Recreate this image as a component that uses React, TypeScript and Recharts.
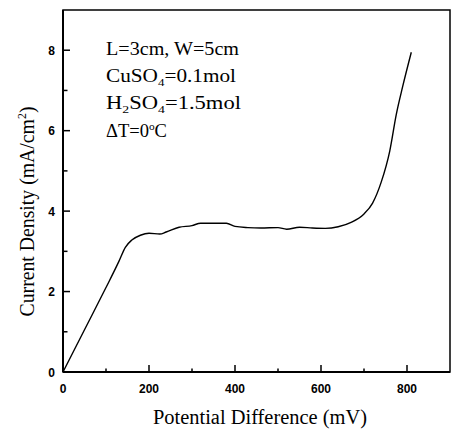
import { LineChart, Line, XAxis, YAxis, ReferenceArea, Customized } from 'recharts';

// Potential difference (mV) vs current density (mA/cm2)
const potential = [0, 50, 100, 130, 145, 160, 180, 200, 225, 240, 270, 300, 320, 350, 380, 400, 430, 460, 500, 520, 550, 580, 610, 640, 670, 700, 720, 740, 760, 775, 790, 810];
const currentDensity = [0, 1.05, 2.1, 2.75, 3.1, 3.28, 3.4, 3.45, 3.43, 3.48, 3.6, 3.64, 3.7, 3.7, 3.7, 3.62, 3.59, 3.58, 3.59, 3.55, 3.6, 3.58, 3.57, 3.61, 3.72, 3.93, 4.2, 4.72, 5.5, 6.4, 7.1, 7.95];

const xTicks = [0, 100, 200, 300, 400, 500, 600, 700, 800];
const yTicks = [0, 1, 2, 3, 4, 5, 6, 7, 8];
const xLabelStep = 200;
const yLabelStep = 2;

const data = potential.map((p, i) => ({ p, j: currentDensity[i] }));

const SERIF = '"Liberation Serif", "Times New Roman", serif';
const SANS = '"Liberation Sans", Arial, sans-serif';

const XTick = (props: any) => {
  const { x, y, payload } = props;
  const major = payload.value % xLabelStep === 0;
  return (
    <g>
      <line x1={x} x2={x} y1={y} y2={y - (major ? 7 : 3.5)} stroke="#000" strokeWidth={1.5} />
      {major && (
        <text x={x} y={y + 21} textAnchor="middle" fontFamily={SANS} fontWeight="bold" fontSize={12} fill="#000">
          {payload.value}
        </text>
      )}
    </g>
  );
};

const YTick = (props: any) => {
  const { x, y, payload } = props;
  const major = payload.value % yLabelStep === 0;
  return (
    <g>
      <line x1={x} x2={x + (major ? 7 : 4.5)} y1={y} y2={y} stroke="#000" strokeWidth={1.5} />
      {major && (
        <text x={x - 8} y={y + 4.5} textAnchor="end" fontFamily={SANS} fontWeight="bold" fontSize={12} fill="#000">
          {payload.value}
        </text>
      )}
    </g>
  );
};

const XTitle = (props: any) => {
  const vb = props.viewBox;
  return (
    <text
      x={vb.x + vb.width / 2 + 3.5}
      y={vb.y + 51.5}
      textAnchor="middle"
      fontFamily={SERIF}
      fontSize={20}
      textLength={214}
      lengthAdjust="spacingAndGlyphs"
      fill="#000"
    >
      Potential Difference (mV)
    </text>
  );
};

const YTitle = (props: any) => {
  const vb = props.viewBox;
  const cx = 34;
  const cy = vb.y + vb.height / 2 + 20.5;
  return (
    <text
      x={cx}
      y={cy}
      transform={`rotate(-90, ${cx}, ${cy})`}
      textAnchor="middle"
      fontFamily={SERIF}
      fontSize={20}
      textLength={210}
      lengthAdjust="spacingAndGlyphs"
      fill="#000"
    >
      Current Density (mA/cm
      <tspan dy={-8} fontSize={12}>2</tspan>
      <tspan dy={8}>)</tspan>
    </text>
  );
};

const Notes = () => (
  <g fontFamily={SERIF} fontSize={18} fill="#000">
    <text x={106} y={55} textLength={133} lengthAdjust="spacingAndGlyphs">L=3cm, W=5cm</text>
    <text x={106} y={82} textLength={130} lengthAdjust="spacingAndGlyphs">
      CuSO<tspan dy={4} fontSize={11}>4</tspan>
      <tspan dy={-4}>=0.1mol</tspan>
    </text>
    <text x={106} y={109} textLength={135} lengthAdjust="spacingAndGlyphs">
      H<tspan dy={4} fontSize={11}>2</tspan>
      <tspan dy={-4}>SO</tspan>
      <tspan dy={4} fontSize={11}>4</tspan>
      <tspan dy={-4}>=1.5mol</tspan>
    </text>
    <text x={106} y={137} textLength={61} lengthAdjust="spacingAndGlyphs">
      ΔT=0<tspan dy={-7} fontSize={11}>o</tspan>
      <tspan dy={7}>C</tspan>
    </text>
  </g>
);

export default function App() {
  return (
    <div style={{ position: 'absolute', left: 0, top: 0, background: '#fff' }}>
      <LineChart width={451} height={429} data={data} margin={{ top: 10, right: 1, bottom: 0, left: 0 }}>
        <XAxis
          dataKey="p"
          type="number"
          domain={[0, 900]}
          ticks={xTicks}
          interval={0}
          height={57}
          tickSize={0}
          tickMargin={0}
          tickLine={false}
          axisLine={{ stroke: '#000', strokeWidth: 2 }}
          tick={<XTick />}
          label={{ content: XTitle }}
        />
        <YAxis
          type="number"
          domain={[0, 9]}
          ticks={yTicks}
          interval={0}
          width={63}
          tickSize={0}
          tickMargin={0}
          tickLine={false}
          axisLine={{ stroke: '#000', strokeWidth: 2 }}
          tick={<YTick />}
          label={{ content: YTitle }}
        />
        <ReferenceArea x1={0} x2={900} y1={0} y2={9} fill="none" fillOpacity={0} stroke="#000" strokeWidth={1.5} ifOverflow="visible" />
        <Line
          type="monotone"
          dataKey="j"
          stroke="#000"
          strokeWidth={1.4}
          dot={false}
          isAnimationActive={false}
        />
        <Customized component={Notes} />
      </LineChart>
    </div>
  );
}
